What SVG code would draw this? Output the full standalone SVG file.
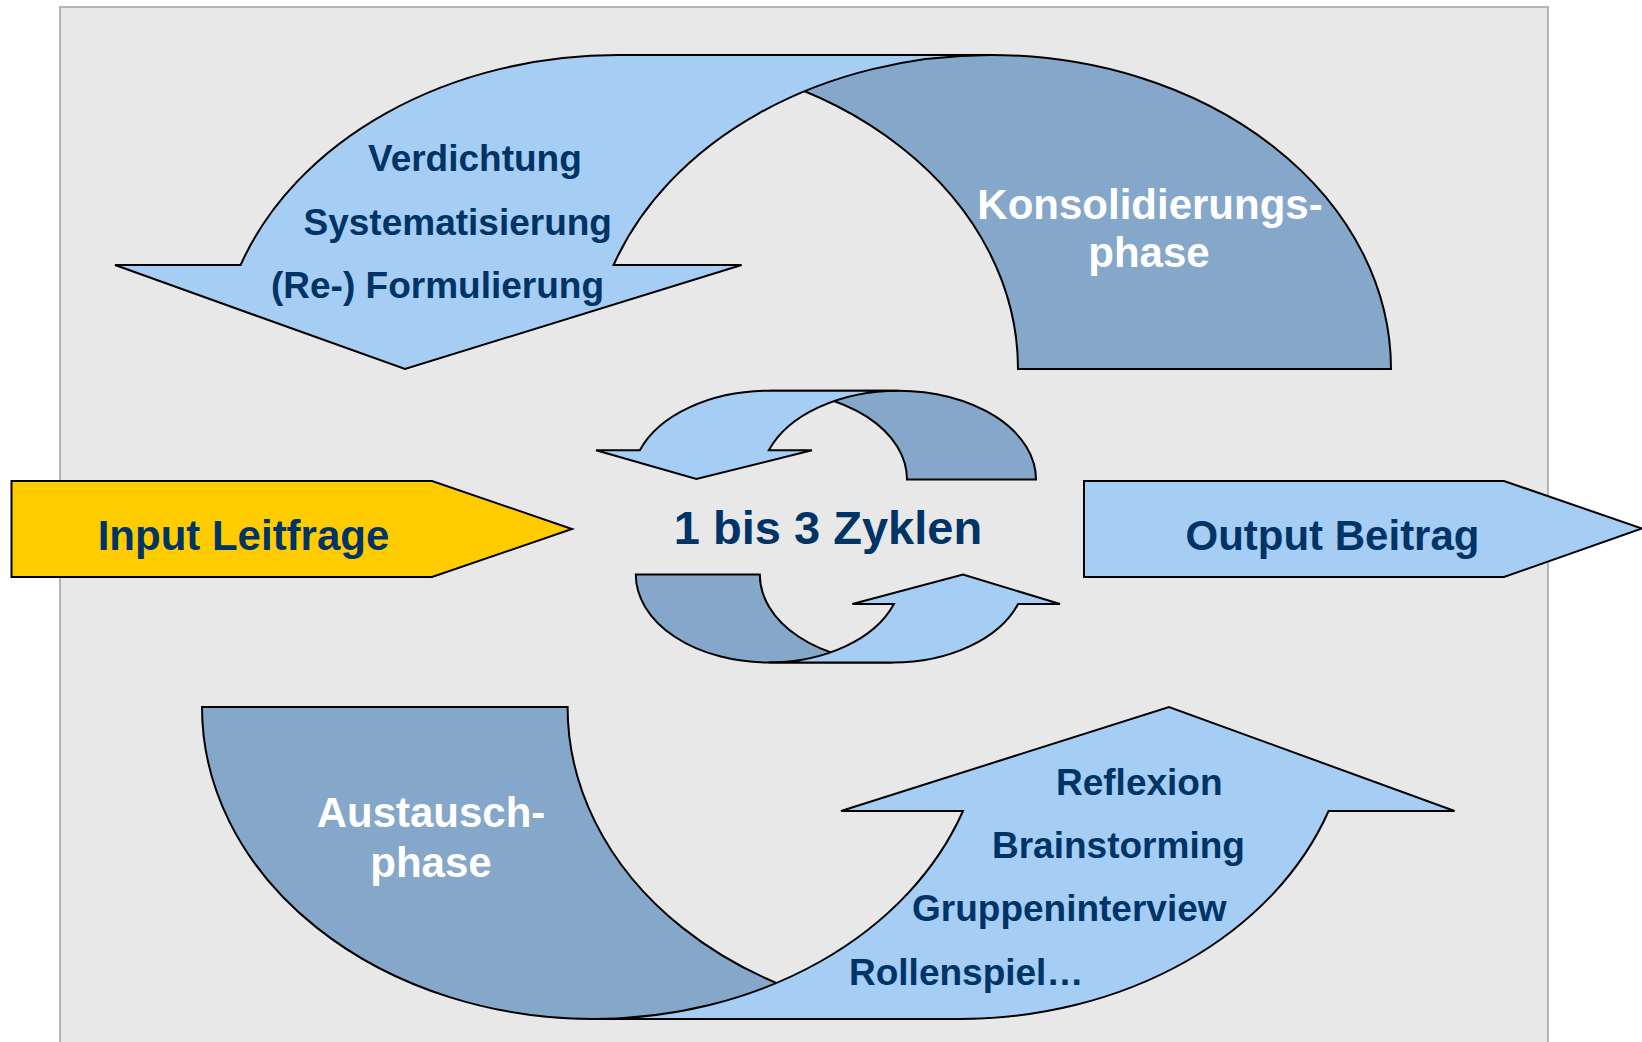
<svg xmlns="http://www.w3.org/2000/svg" width="1642" height="1042" viewBox="0 0 1642 1042">
<style>
.bg{fill:#e8e8e8;stroke:#b4b4b4;stroke-width:2}
.lt{fill:#a6cdf4;stroke:#000;stroke-width:2;stroke-linejoin:miter}
.dk{fill:#85a7c9;stroke:#000;stroke-width:2;stroke-linejoin:miter}
.yl{fill:#ffcc00;stroke:#000;stroke-width:2}
text{font-family:"Liberation Sans",Arial,Helvetica,sans-serif;font-weight:bold}
.nv{fill:#003366}
.wh{fill:#ffffff}
.s37{font-size:37px}
.s42{font-size:42px}
.s47{font-size:47px}
.mid{text-anchor:middle}
</style>
<rect class="bg" x="60" y="7" width="1488" height="1060"/>
<g id="connectors"></g>
<g id="konsolidierung">
<path class="dk" d="M1018,369 A400,314 0 0 0 618,55 L991,55 A400,314 0 0 1 1391,369 Z"/>
<path class="lt" d="M240.6,265 A400,314 0 0 1 618,55 L991,55 A400,314 0 0 0 613.6,265 L741.6,265 L405,369 L115,265 Z"/>
<text class="nv s37" x="368" y="171">Verdichtung</text>
<text class="nv s37" x="303.5" y="234.5">Systematisierung</text>
<text class="nv s37" x="271" y="298">(Re-) Formulierung</text>
<text class="wh s42 mid" x="1150" y="219">Konsolidierungs-</text>
<text class="wh s42 mid" x="1149" y="267">phase</text>
</g>
<g id="zyklus-oben">
<path class="dk" d="M907,479.5 A137.4,88.8 0 0 0 769.6,390.7 L898.6,390.7 A137.4,88.8 0 0 1 1036,479.5 Z"/>
<path class="lt" d="M639.8,450.3 A137.4,88.8 0 0 1 769.6,390.7 L898.6,390.7 A137.4,88.8 0 0 0 768.8,450.3 L812,450.3 L696.4,479 L596,450.3 Z"/>
</g>
<g id="zyklen-label">
<text class="nv s47 mid" x="828" y="543.5">1 bis 3 Zyklen</text>
</g>
<g id="zyklus-unten">
<path class="dk" d="M759.8,574.5 A132.9,88 0 0 0 892.9,662.5 L768.7,662.5 A132.9,88 0 0 1 635.8,574.5 Z"/>
<path class="lt" d="M1018.1,604 A132.9,88 0 0 1 892.9,662.5 L768.7,662.5 A132.9,88 0 0 0 893.9,604 L852.4,604 L963,574.5 L1060,604 Z"/>
</g>
<g id="input">
<path class="yl" d="M11.5,481 L432,481 L572,529 L432,577 L11.5,577 Z"/>
<text class="nv s42 mid" x="243.5" y="550">Input Leitfrage</text>
</g>
<g id="output">
<path class="lt" d="M1084,481 L1504,481 L1642,528.5 L1504,577 L1084,577 Z"/>
<text class="nv s42 mid" x="1332.5" y="550">Output Beitrag</text>
</g>
<g id="austausch">
<path class="dk" d="M567.6,707 A391.7,312 0 0 0 959.3,1019 L593.7,1019 A391.7,312 0 0 1 202,707 Z"/>
<path class="lt" d="M1328.6,811 A391.7,312 0 0 1 959.3,1019 L593.7,1019 A391.7,312 0 0 0 963,811 L841,811 L1169,707 L1454.6,811 Z"/>
<text class="wh s42 mid" x="431" y="826.5">Austausch-</text>
<text class="wh s42 mid" x="431" y="877">phase</text>
<text class="nv s37" x="1056" y="795">Reflexion</text>
<text class="nv s37" x="992" y="857.5">Brainstorming</text>
<text class="nv s37" x="912" y="921">Gruppeninterview</text>
<text class="nv s37" x="849" y="985">Rollenspiel…</text>
</g>
</svg>
